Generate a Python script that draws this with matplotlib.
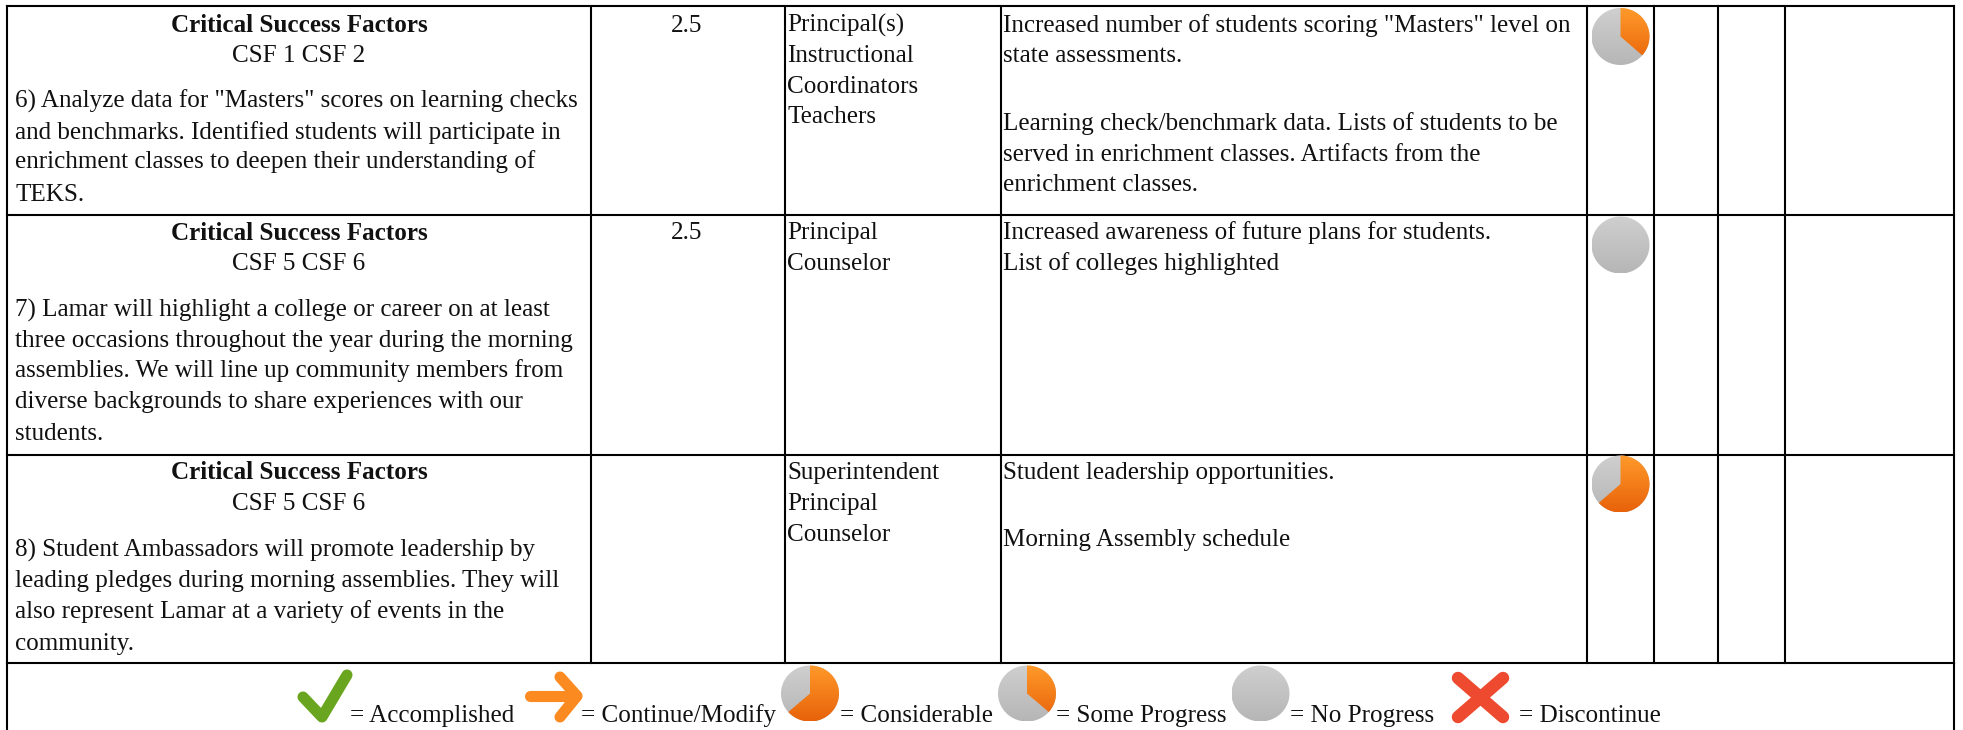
import numpy as np
import matplotlib
matplotlib.use("Agg")
import matplotlib.pyplot as plt
from matplotlib.path import Path
from matplotlib.patches import PathPatch

W, H = 1963, 730
plt.rcParams['font.family'] = ['Liberation Serif', 'DejaVu Serif']

# ----- table content -----
heading = "Critical Success Factors"
csf_labels = ["CSF 1 CSF 2", "CSF 5 CSF 6", "CSF 5 CSF 6"]
strategies = [
    ['6) Analyze data for "Masters" scores on learning checks',
     'and benchmarks. Identified students will participate in',
     'enrichment classes to deepen their understanding of',
     'TEKS.'],
    ['7) Lamar will highlight a college or career on at least',
     'three occasions throughout the year during the morning',
     'assemblies. We will line up community members from',
     'diverse backgrounds to share experiences with our',
     'students.'],
    ['8) Student Ambassadors will promote leadership by',
     'leading pledges during morning assemblies. They will',
     'also represent Lamar at a variety of events in the',
     'community.'],
]
elements = ["2.5", "2.5", ""]
staff = [
    ["Principal(s)", "Instructional", "Coordinators", "Teachers"],
    ["Principal", "Counselor"],
    ["Superintendent", "Principal", "Counselor"],
]
impact = [
    ['Increased number of students scoring "Masters" level on', 'state assessments.',
     'Learning check/benchmark data. Lists of students to be',
     'served in enrichment classes. Artifacts from the', 'enrichment classes.'],
    ['Increased awareness of future plans for students.', 'List of colleges highlighted'],
    ['Student leadership opportunities.', 'Morning Assembly schedule'],
]
progress_fraction = [0.365, 0.0, 0.635]
legend_labels = ["= Accomplished", "= Continue/Modify", "= Considerable",
                 "= Some Progress", "= No Progress", "= Discontinue"]
legend_fraction = [0.635, 0.365, 0.0]

# ----- layout in pixels -----
col_x = [7, 591, 785, 1001, 1587, 1654, 1718, 1785, 1954]
row_y = [6, 215, 455, 663, 730]
heading_base = [32, 240, 479]
csf_base = [62, 270, 510]
strategy_base = [[108, 139, 168, 201], [317, 347, 377, 408, 440], [557, 587, 618, 650]]
element_base = [32, 239, 0]
staff_base = [[32, 62, 93, 123], [239, 270], [479, 510, 541]]
impact_base = [[32, 62, 130, 161, 191], [239, 270], [479, 546]]
pie_cy = [36.5, 245, 484]
FS = 18.1

fig = plt.figure(figsize=(W / 100, H / 100), dpi=100)
ax = fig.add_axes([0, 0, 1, 1])
ax.set_xlim(0, W)
ax.set_ylim(H, 0)
ax.axis('off')

for y in row_y[:4]:
    ax.plot([col_x[0], col_x[-1]], [y, y], color='black', lw=1.5, solid_capstyle='projecting')
for x in col_x:
    ax.plot([x, x], [row_y[0], row_y[3]], color='black', lw=1.5)
for x in (col_x[0], col_x[-1]):
    ax.plot([x, x], [row_y[3], row_y[4]], color='black', lw=1.5)


def txt(x, y, s, **kw):
    ax.text(x, y, s, fontsize=FS, color='#111111', va='baseline', **kw)


def gradient_clip(patch, c0, c1, box):
    x0, x1, y0, y1 = box
    g = np.linspace(0, 1, 64)[:, None, None]
    img = (1 - g) * np.array(matplotlib.colors.to_rgb(c0)) + g * np.array(matplotlib.colors.to_rgb(c1))
    im = ax.imshow(img, extent=[x0, x1, y1, y0], aspect='auto', zorder=3, interpolation='bilinear')
    patch.set_transform(ax.transData)
    im.set_clip_path(patch)


def pie(cx, cy, rx, ry, frac):
    t = np.linspace(0, 2 * np.pi, 120)
    box = (cx - rx, cx + rx, cy - ry, cy + ry)
    gradient_clip(PathPatch(Path(np.c_[cx + rx * np.cos(t), cy + ry * np.sin(t)])), '#cfcfcf', '#b6b6b6', box)
    if frac > 0:
        # clockwise from 12 o'clock (y axis points down in pixels)
        a = np.linspace(-np.pi / 2, -np.pi / 2 + 2 * np.pi * frac, 80)
        pts = np.r_[[[cx, cy]], np.c_[cx + rx * np.cos(a), cy + ry * np.sin(a)], [[cx, cy]]]
        gradient_clip(PathPatch(Path(pts)), '#ff9a2a', '#e8620a', box)


for i in range(3):
    xc = 299
    txt(xc, heading_base[i], heading, ha='center', fontweight='bold')
    txt(xc, csf_base[i], csf_labels[i], ha='center')
    for line, y in zip(strategies[i], strategy_base[i]):
        txt(15, y, line)
    if elements[i]:
        txt(687, element_base[i], elements[i], ha='center')
    for line, y in zip(staff[i], staff_base[i]):
        txt(col_x[2] + 2, y, line)
    for line, y in zip(impact[i], impact_base[i]):
        txt(col_x[3] + 2, y, line)
    pie(1620.5, pie_cy[i], 29, 28.5, progress_fraction[i])

# ----- legend -----
base = 722
# check mark
ax.plot([303, 322, 347], [697, 717, 675], color='#6aa51f', lw=8, solid_capstyle='round', solid_joinstyle='round', zorder=3)
txt(350, base, legend_labels[0])
# arrow
ax.plot([530, 576], [696, 696], color='#fb8a20', lw=8, solid_capstyle='round', zorder=3)
ax.plot([560, 577, 560], [677, 696, 717], color='#fb8a20', lw=8, solid_capstyle='round', solid_joinstyle='round', zorder=3)
txt(581, base, legend_labels[1])
pie(810, 693.5, 29, 28, legend_fraction[0])
txt(840, base, legend_labels[2])
pie(1027, 693.5, 29, 28, legend_fraction[1])
txt(1056, base, legend_labels[3])
pie(1260.5, 693.5, 29, 28, legend_fraction[2])
txt(1290, base, legend_labels[4])
# cross
ax.plot([1458, 1503], [678, 717], color='#ee4a30', lw=9, solid_capstyle='round', zorder=3)
ax.plot([1503, 1458], [678, 717], color='#ee4a30', lw=9, solid_capstyle='round', zorder=3)
txt(1519, base, legend_labels[5])

ax.set_xlim(0, W)
ax.set_ylim(H, 0)
fig.savefig('out.png', dpi=100)
